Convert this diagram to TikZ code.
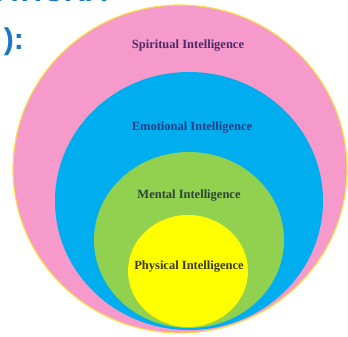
\documentclass[tikz,border=0pt]{standalone}
\usepackage{fontspec}
\setmainfont{Liberation Serif}
\setsansfont{Liberation Sans}
\definecolor{pinkf}{HTML}{F59ACB}
\definecolor{bluef}{HTML}{00AEEF}
\definecolor{greenf}{HTML}{92D050}
\definecolor{yellowf}{HTML}{FFFF00}
\definecolor{rimc}{HTML}{F8E04A}
\definecolor{headc}{HTML}{1C76C6}
\definecolor{tspir}{HTML}{4E2A6A}
\definecolor{temo}{HTML}{1D3F8A}
\definecolor{tment}{HTML}{2B4636}
\definecolor{tphys}{HTML}{3A3818}
\begin{document}
\begin{tikzpicture}[x=1pt,y=-1pt,
  lab/.style={font=\bfseries\fontsize{12.5}{14}\selectfont, inner sep=0pt},
  head/.style={font=\sffamily\bfseries\fontsize{30}{32}\selectfont, text=headc, inner sep=0pt}]
\useasboundingbox (0,0) rectangle (348,337);
\begin{scope}
\clip (0,0) rectangle (348,337);
\node[head, anchor=base west] (ht) at (-4,1.5) {ATICRA};
\node[head, anchor=base east] (hc) at (24,50) {):};
\fill[pinkf, draw=rimc, line width=1.2pt] (180,169) ellipse [x radius=167, y radius=164];
\fill[bluef] (189,201) ellipse [x radius=134, y radius=129];
\fill[greenf] (189,240) ellipse [x radius=95, y radius=88];
\fill[yellowf] (188,271) ellipse [x radius=60, y radius=56];
\end{scope}
\node[lab, text=tspir] (sp) at (188,46) {Spiritual Intelligence};
\node[lab, text=temo] (em) at (192,128) {Emotional Intelligence};
\node[lab, text=tment] (me) at (189,196) {Mental Intelligence};
\node[lab, text=tphys] (ph) at (189,267) {Physical Intelligence};
\end{tikzpicture}
\end{document}
